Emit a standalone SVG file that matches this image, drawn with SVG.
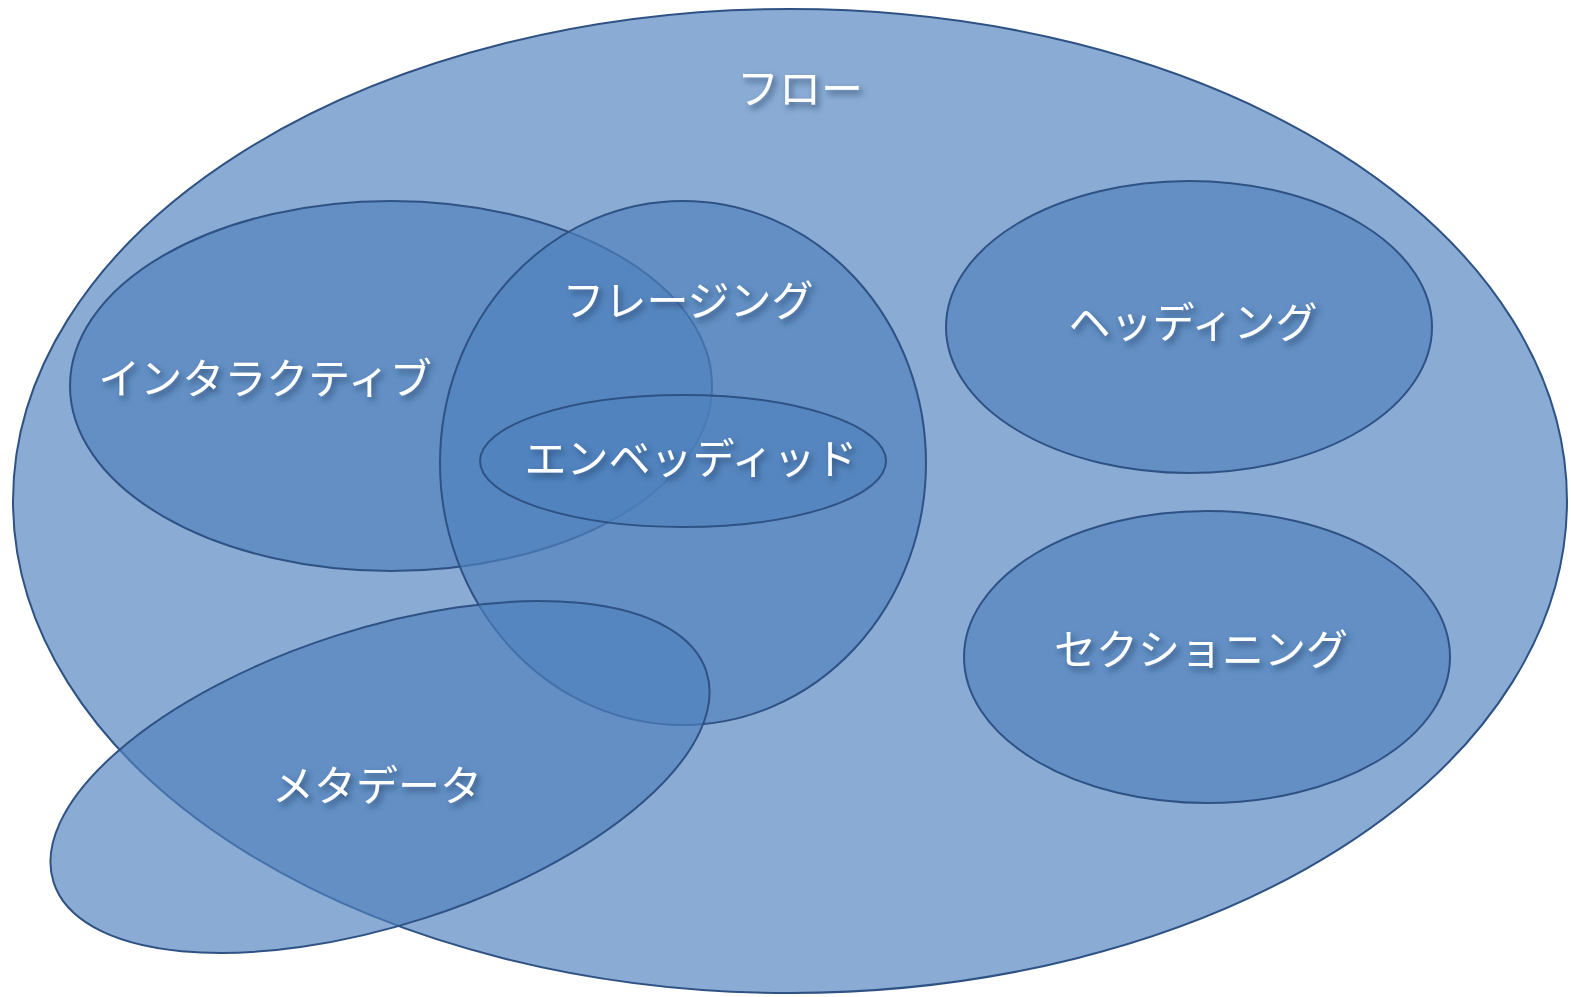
<svg xmlns="http://www.w3.org/2000/svg" width="1571" height="997" viewBox="0 0 1571 997">
<defs>
<filter id="sh" x="-10%" y="-30%" width="120%" height="160%">
<feDropShadow dx="3" dy="4" stdDeviation="3" flood-color="#1f3a60" flood-opacity="0.7"/>
</filter>
</defs>
<style>
.set{fill:#4f81bd;fill-opacity:0.665;stroke:#2f5285;stroke-width:2}
.lbl{fill:#ffffff;font-family:"Noto Sans CJK JP","Noto Sans",sans-serif;font-size:42px;font-weight:400;text-anchor:middle;filter:url(#sh)}
</style>
<rect width="1571" height="997" fill="#ffffff"/>
<g id="flow"><ellipse class="set" cx="790" cy="501" rx="777" ry="492"/></g>
<g id="interactive"><ellipse class="set" cx="391" cy="386" rx="321" ry="185"/></g>
<g id="phrasing"><ellipse class="set" cx="683" cy="463" rx="243" ry="262"/></g>
<g id="embedded"><ellipse class="set" cx="683" cy="461" rx="203" ry="66"/></g>
<g id="heading"><ellipse class="set" cx="1189" cy="327" rx="243" ry="146"/></g>
<g id="sectioning"><ellipse class="set" cx="1207" cy="657" rx="243" ry="146"/></g>
<g id="metadata"><ellipse class="set" cx="0" cy="0" rx="343" ry="148" transform="translate(380,777) rotate(-17.9)"/></g>
<g id="connectors"></g>
<g id="labels">
<text class="lbl" x="800" y="104">フロー</text>
<text class="lbl" x="688" y="316">フレージング</text>
<text class="lbl" x="265" y="394">インタラクティブ</text>
<text class="lbl" x="691" y="474">エンベッディッド</text>
<text class="lbl" x="1193" y="338">ヘッディング</text>
<text class="lbl" x="1201" y="665">セクショニング</text>
<text class="lbl" x="377" y="801">メタデータ</text>
</g>
</svg>
